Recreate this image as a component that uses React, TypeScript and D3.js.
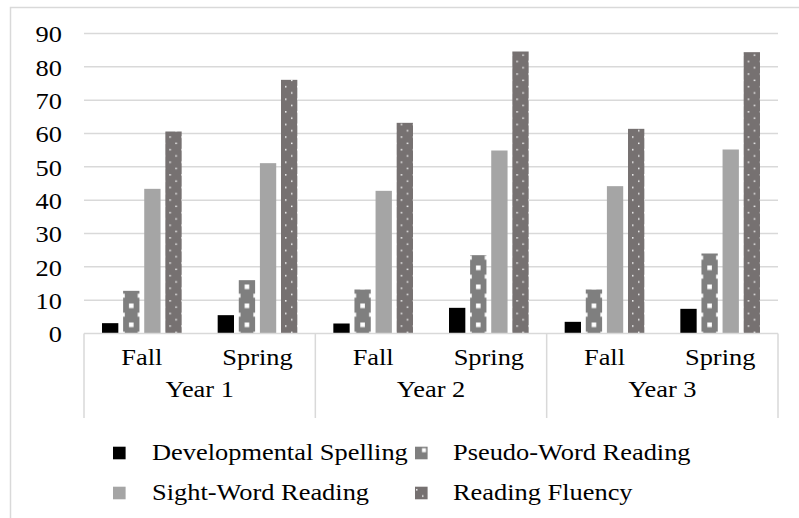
import React, { useEffect, useRef } from 'react';
import * as d3 from 'd3';

const years = ['Year 1', 'Year 2', 'Year 3'];
const terms = ['Fall', 'Spring'];
const seriesNames = ['Developmental Spelling', 'Pseudo-Word Reading', 'Sight-Word Reading', 'Reading Fluency'];
const spelling = [3.1, 5.5, 3.0, 7.7, 3.5, 7.4];
const pseudoWord = [12.8, 16.0, 13.2, 23.5, 13.2, 24.0];
const sightWord = [43.4, 51.1, 42.8, 54.9, 44.2, 55.2];
const fluency = [60.6, 76.1, 63.2, 84.6, 61.4, 84.4];
const yTicks = [0, 10, 20, 30, 40, 50, 60, 70, 80, 90];

const W = 799;
const H = 518;
const FONT = '"Liberation Serif", "Times New Roman", serif';

function App() {
  const ref = useRef<SVGSVGElement>(null);

  useEffect(() => {
    const svg = d3.select(ref.current);
    svg.selectAll('*').remove();

    const left = 84, right = 778, top = 33.5, bottom = 333.5;
    const cats = years.flatMap(y => terms.map(t => `${y}|${t}`));
    const series = [spelling, pseudoWord, sightWord, fluency];

    const x = d3.scaleBand().domain(cats).range([left, right]);
    const xs = d3.scaleBand<number>()
      .domain([0, 1, 2, 3])
      .range([0, x.bandwidth()])
      .paddingInner(0.227)
      .paddingOuter(0.853);
    const xYear = d3.scaleBand().domain(years).range([left, right]);
    const y = d3.scaleLinear().domain([0, 90]).range([bottom, top]);
    const bw = xs.bandwidth();

    const colors = ['#000000', '#7f7f7f', '#a5a5a5', '#767171'];

    // chart frame (cropped at right / bottom)
    svg.append('rect')
      .attr('x', 10.5).attr('y', 7.5)
      .attr('width', W + 20).attr('height', H + 20)
      .attr('fill', '#fff').attr('stroke', '#d9d9d9').attr('stroke-width', 1.5);

    const defs = svg.append('defs');

    // patterns, one per bar so the tiles line up with each bar
    const addPseudo = (id: string, px: number, py: number, w: number) => {
      const p = defs.append('pattern')
        .attr('id', id)
        .attr('patternUnits', 'userSpaceOnUse')
        .attr('width', w).attr('height', 19)
        .attr('patternTransform', `translate(${px},${py})`);
      p.append('rect').attr('width', w).attr('height', 19).attr('fill', colors[1]);
      const sq = 4.6;
      p.append('rect').attr('x', (w - sq) / 2).attr('y', 8).attr('width', sq).attr('height', sq).attr('fill', '#fff');
      [[0, 17.2, 1.7, 1.8], [0, 0, 1.7, 2.2], [w - 1.7, 17.2, 1.7, 1.8], [w - 1.7, 0, 1.7, 2.2]].forEach(r => {
        p.append('rect').attr('x', r[0]).attr('y', r[1]).attr('width', r[2]).attr('height', r[3]).attr('fill', '#fff');
      });
    };
    const addDots = (id: string, px: number, py: number) => {
      const p = defs.append('pattern')
        .attr('id', id)
        .attr('patternUnits', 'userSpaceOnUse')
        .attr('width', 12).attr('height', 12.6)
        .attr('patternTransform', `translate(${px},${py})`);
      p.append('rect').attr('width', 12).attr('height', 12.6).attr('fill', colors[3]);
      p.append('rect').attr('x', 4).attr('y', 2).attr('width', 1.5).attr('height', 1.5).attr('fill', '#f2f2f2');
      p.append('rect').attr('x', 10).attr('y', 8.3).attr('width', 1.5).attr('height', 1.5).attr('fill', '#f2f2f2');
    };

    // gridlines
    svg.append('g')
      .selectAll('line')
      .data(yTicks.filter(t => t > 0))
      .join('line')
      .attr('x1', left).attr('x2', right)
      .attr('y1', d => y(d)).attr('y2', d => y(d))
      .attr('stroke', '#d9d9d9').attr('stroke-width', 1.5);

    // y tick labels
    svg.append('g')
      .selectAll('text')
      .data(yTicks)
      .join('text')
      .attr('transform', d => `translate(62,${y(d) + 8.8}) scale(1.1,1)`)
      .attr('text-anchor', 'end')
      .attr('font-family', FONT).attr('font-size', 24)
      .text(d => d);

    // bars
    series.forEach((vals, si) => {
      const g = svg.append('g');
      vals.forEach((v, ci) => {
        const bx = (x(cats[ci]) as number) + (xs(si) as number);
        let fill = colors[si];
        if (si === 1) { addPseudo(`pw${ci}`, bx, bottom, bw); fill = `url(#pw${ci})`; }
        if (si === 3) { addDots(`rf${ci}`, bx, top); fill = `url(#rf${ci})`; }
        g.append('rect')
          .attr('x', bx).attr('y', y(v))
          .attr('width', bw).attr('height', bottom - y(v))
          .attr('fill', fill);
      });
    });

    // category axis
    const axisBottom = 418;
    svg.append('line')
      .attr('x1', left).attr('x2', right).attr('y1', bottom).attr('y2', bottom)
      .attr('stroke', '#d9d9d9').attr('stroke-width', 1.5);
    svg.append('g')
      .selectAll('line')
      .data(years.map(yr => xYear(yr) as number).concat([right]))
      .join('line')
      .attr('x1', d => d).attr('x2', d => d)
      .attr('y1', bottom).attr('y2', axisBottom)
      .attr('stroke', '#d9d9d9').attr('stroke-width', 1.5);

    svg.append('g')
      .selectAll('text')
      .data(cats)
      .join('text')
      .attr('transform', d => `translate(${(x(d) as number) + x.bandwidth() / 2},365) scale(1.1,1)`)
      .attr('text-anchor', 'middle')
      .attr('font-family', FONT).attr('font-size', 24)
      .text(d => d.split('|')[1]);

    svg.append('g')
      .selectAll('text')
      .data(years)
      .join('text')
      .attr('transform', d => `translate(${(xYear(d) as number) + xYear.bandwidth() / 2},397) scale(1.1,1)`)
      .attr('text-anchor', 'middle')
      .attr('font-family', FONT).attr('font-size', 24)
      .text(d => d);

    // legend swatches: small crops of the bar patterns
    const pl = defs.append('pattern')
      .attr('id', 'pwLeg')
      .attr('patternUnits', 'objectBoundingBox')
      .attr('width', 1).attr('height', 1);
    pl.append('rect').attr('width', 12.6).attr('height', 12.6).attr('fill', colors[1]);
    pl.append('rect').attr('x', 7).attr('y', 1.5).attr('width', 4).attr('height', 4).attr('fill', '#fff');
    addDots('rfLeg', 412, 487);

    const legPos = [
      { sx: 113, tx: 152, row: 0 },
      { sx: 415, tx: 453, row: 0 },
      { sx: 113, tx: 152, row: 1 },
      { sx: 415, tx: 453, row: 1 },
    ];
    const legFill = [colors[0], 'url(#pwLeg)', colors[2], 'url(#rfLeg)'];
    const leg = svg.append('g');
    seriesNames.forEach((name, i) => {
      const p = legPos[i];
      const cy = 453 + p.row * 40;
      leg.append('rect')
        .attr('x', p.sx).attr('y', cy - 6.3)
        .attr('width', 12.6).attr('height', 12.6)
        .attr('fill', legFill[i]);
      leg.append('text')
        .attr('transform', `translate(${p.tx},${cy + 7}) scale(1.1,1)`)
        .attr('font-family', FONT).attr('font-size', 24)
        .text(name);
    });
  }, []);

  return (
    <svg
      ref={ref}
      width={W}
      height={H}
      style={{ position: 'absolute', left: 0, top: 0, background: '#fff' }}
    />
  );
}

export default App;
